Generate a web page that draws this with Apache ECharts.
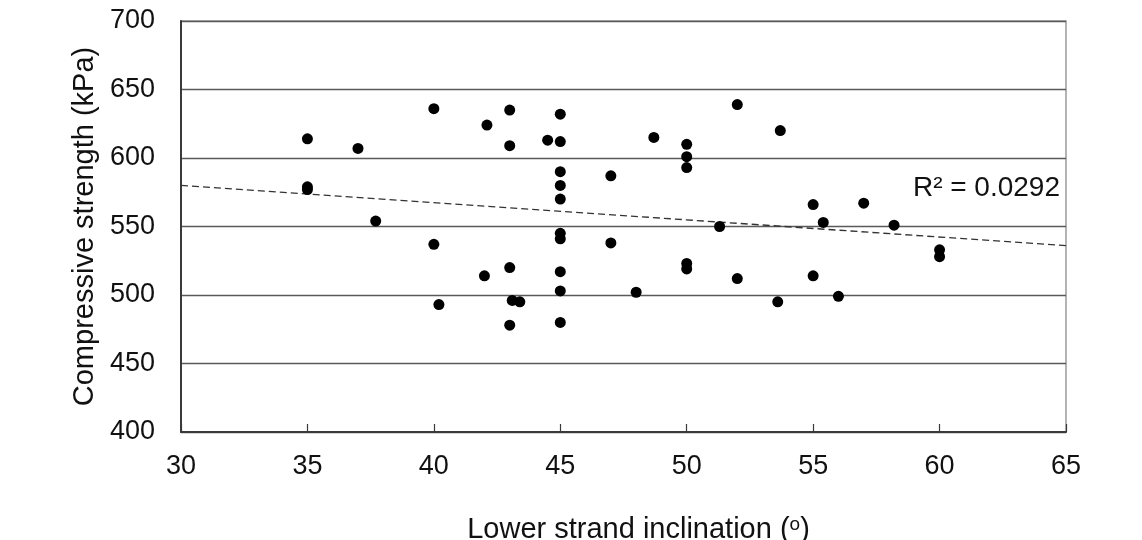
<!DOCTYPE html>
<html>
<head>
<meta charset="utf-8">
<script src="https://cdn.jsdelivr.net/npm/echarts@6/dist/echarts.min.js"></script>
<style>
  html, body { margin: 0; padding: 0; background: #fff; }
  #chart { width: 1142px; height: 540px; }
</style>
</head>
<body>
<div id="chart"></div>
<script>
// lower strand inclination (deg) and compressive strength (kPa)
var inclination = [35, 35, 35, 37, 37.7, 40, 40, 40.2, 42, 42.1,
  43, 43, 43, 43.1, 43.4, 43, 44.5, 45, 45, 45,
  45, 45, 45, 45, 45, 45, 45, 47, 47, 48,
  48.7, 50, 50, 50, 50, 50, 51.3, 52, 52, 53.6,
  53.7, 55, 55, 55.4, 56, 57, 58.2, 60, 60];
var strength = [614, 577, 579, 607, 554, 636, 537, 493, 514, 624,
  635, 609, 520, 496, 495, 478, 613, 632, 612, 590,
  580, 570, 545, 541, 517, 503, 480, 587, 538, 502,
  615, 610, 601, 593, 523, 519, 550, 639, 512, 495,
  620, 566, 514, 553, 499, 567, 551, 533, 528];

// linear trend line end points as drawn
var trendX = [30, 65];
var trendY = [580, 536];
var r2Text = "R\u00b2 = 0.0292";

var font = "Liberation Sans, Arial, sans-serif";

function pairs(xs, ys) {
  var out = [];
  for (let i = 0; i < xs.length; i++) {
    out.push([xs[i], ys[i]]);
  }
  return out;
}

var chart = echarts.init(document.getElementById("chart"));
chart.setOption({
  animation: false,
  backgroundColor: "#fff",
  grid: {
    left: 181, right: 76, top: 21, bottom: 108,
    outerBoundsMode: "none", containLabel: false,
    show: true, borderColor: "#9a9a9a", borderWidth: 1.5
  },
  xAxis: {
    type: "value", min: 30, max: 65, interval: 5,
    name: "Lower strand inclination ({sup|o})",
    nameLocation: "middle", nameGap: 83,
    nameTextStyle: {
      color: "#111", fontSize: 29, fontFamily: font, padding: [0, 0, 0, 30],
      rich: { sup: { fontSize: 19, fontFamily: font, color: "#111", padding: [0, 0, 11, 0] } }
    },
    axisLine: { lineStyle: { color: "#3a3a3a", width: 2 } },
    axisTick: { inside: true, length: 8, lineStyle: { color: "#3a3a3a", width: 1.2 } },
    axisLabel: { color: "#111", fontSize: 27, fontFamily: font, margin: 21 },
    splitLine: { show: false }
  },
  yAxis: {
    type: "value", min: 400, max: 700, interval: 50,
    name: "Compressive strength (kPa)",
    nameLocation: "middle", nameGap: 78,
    nameTextStyle: { color: "#111", fontSize: 29, fontFamily: font },
    axisLine: { show: true, lineStyle: { color: "#3a3a3a", width: 2 } },
    axisTick: { show: false },
    axisLabel: { color: "#111", fontSize: 27, fontFamily: font, margin: 26 },
    splitLine: { lineStyle: { color: "#5a5a5a", width: 1.4 } }
  },
  graphic: [{
    type: "text", right: 82, top: 174,
    style: { text: r2Text, fill: "#111", fontSize: 28, fontFamily: font }
  }],
  series: [
    {
      type: "line",
      data: pairs(trendX, trendY),
      symbol: "none",
      lineStyle: { color: "#333", width: 1.3, type: [7, 4] },
      z: 2
    },
    {
      type: "scatter",
      data: pairs(inclination, strength),
      symbol: "circle",
      symbolSize: 11,
      itemStyle: { color: "#000", opacity: 1 },
      z: 3
    }
  ]
});
</script>
</body>
</html>
